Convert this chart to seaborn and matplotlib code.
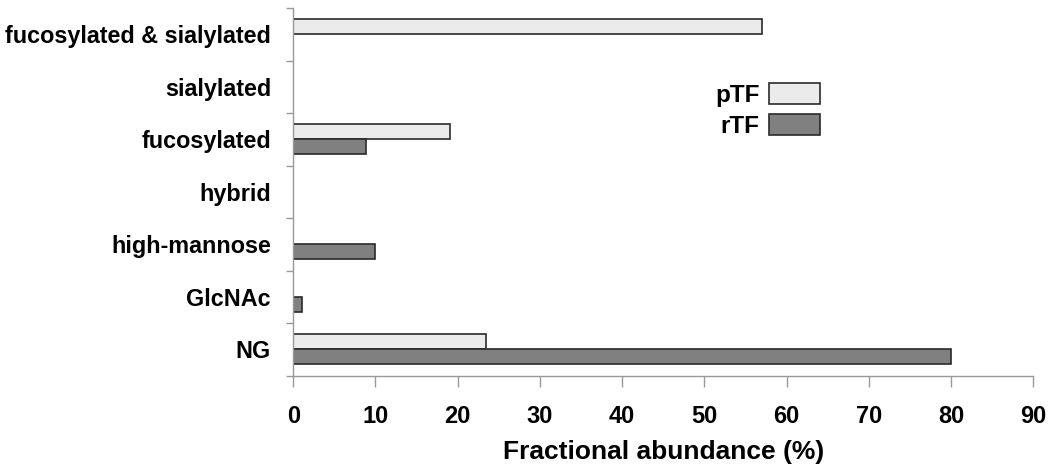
import matplotlib
matplotlib.use("Agg")
import matplotlib.pyplot as plt
import seaborn as sns
import pandas as pd
import numpy as np
from matplotlib.patches import Patch

categories = ["fucosylated & sialylated", "sialylated", "fucosylated", "hybrid",
              "high-mannose", "GlcNAc", "NG"]
pTF = [57.0, 0.0, 19.1, 0.0, 0.0, 0.0, 23.5]
rTF = [0.0, 0.0, 8.9, 0.0, 10.0, 1.1, 80.0]
series = ["pTF", "rTF"]
colors = ["#ebebeb", "#808080"]
xticks = [0, 10, 20, 30, 40, 50, 60, 70, 80, 90]
xlabel = "Fractional abundance (%)"

df = pd.DataFrame({
    "category": categories * 2,
    "value": pTF + rTF,
    "series": ["pTF"] * len(categories) + ["rTF"] * len(categories),
})

sns.set_theme(style="white")
plt.rcParams["font.family"] = ["Liberation Sans", "DejaVu Sans"]
plt.rcParams["text.color"] = "black"
plt.rcParams["xtick.labelcolor"] = "black"
plt.rcParams["ytick.labelcolor"] = "black"
plt.rcParams["axes.labelcolor"] = "black"

fig = plt.figure(figsize=(10.5, 4.7), dpi=100)
ax = fig.add_axes([0.2793, 0.2006, 0.7048, 0.7823])

sns.barplot(data=df, y="category", x="value", hue="series", order=categories,
            hue_order=series, palette=colors, orient="h", width=0.57,
            edgecolor="#2a2a2a", linewidth=1.2, legend=False, ax=ax, saturation=1)

for p in ax.patches:
    if p.get_width() == 0:
        p.set_visible(False)

ax.set_xlim(0, 90)
ax.set_ylim(6.5, -0.5)
ax.set_xticks(xticks)
ax.set_xticklabels([str(t) for t in xticks], fontsize=17, fontweight="bold")
ax.set_yticks(np.arange(-0.5, len(categories), 1.0))
ax.set_yticklabels([])
ax.set_yticks(np.arange(len(categories)), minor=True)
ax.set_yticklabels(categories, minor=True, fontsize=16.8, fontweight="bold")
ax.tick_params(axis="y", which="major", length=5, width=1, color="#999999", direction="out", left=True)
ax.tick_params(axis="y", which="minor", length=0, pad=16)
ax.tick_params(axis="x", which="major", length=8, width=1, color="#999999", direction="out",
               bottom=True, pad=13)
ax.set_ylabel("")
ax.set_xlabel(xlabel, fontsize=19, fontweight="bold", labelpad=9)

for s in ["top", "right"]:
    ax.spines[s].set_visible(False)
for s in ["left", "bottom"]:
    ax.spines[s].set_color("#999999")
    ax.spines[s].set_linewidth(1.0)

handles = [Patch(facecolor=c, edgecolor="#2a2a2a", linewidth=1.2) for c in colors]
leg = ax.legend(handles, series, loc="upper right", bbox_to_anchor=(0.712, 0.796),
                frameon=False, markerfirst=False, handlelength=2.1, handleheight=0.95,
                labelspacing=0.3, handletextpad=0.4, borderpad=0, borderaxespad=0,
                prop={"weight": "bold", "size": 17.5})

fig.savefig("out.png", dpi=100)
